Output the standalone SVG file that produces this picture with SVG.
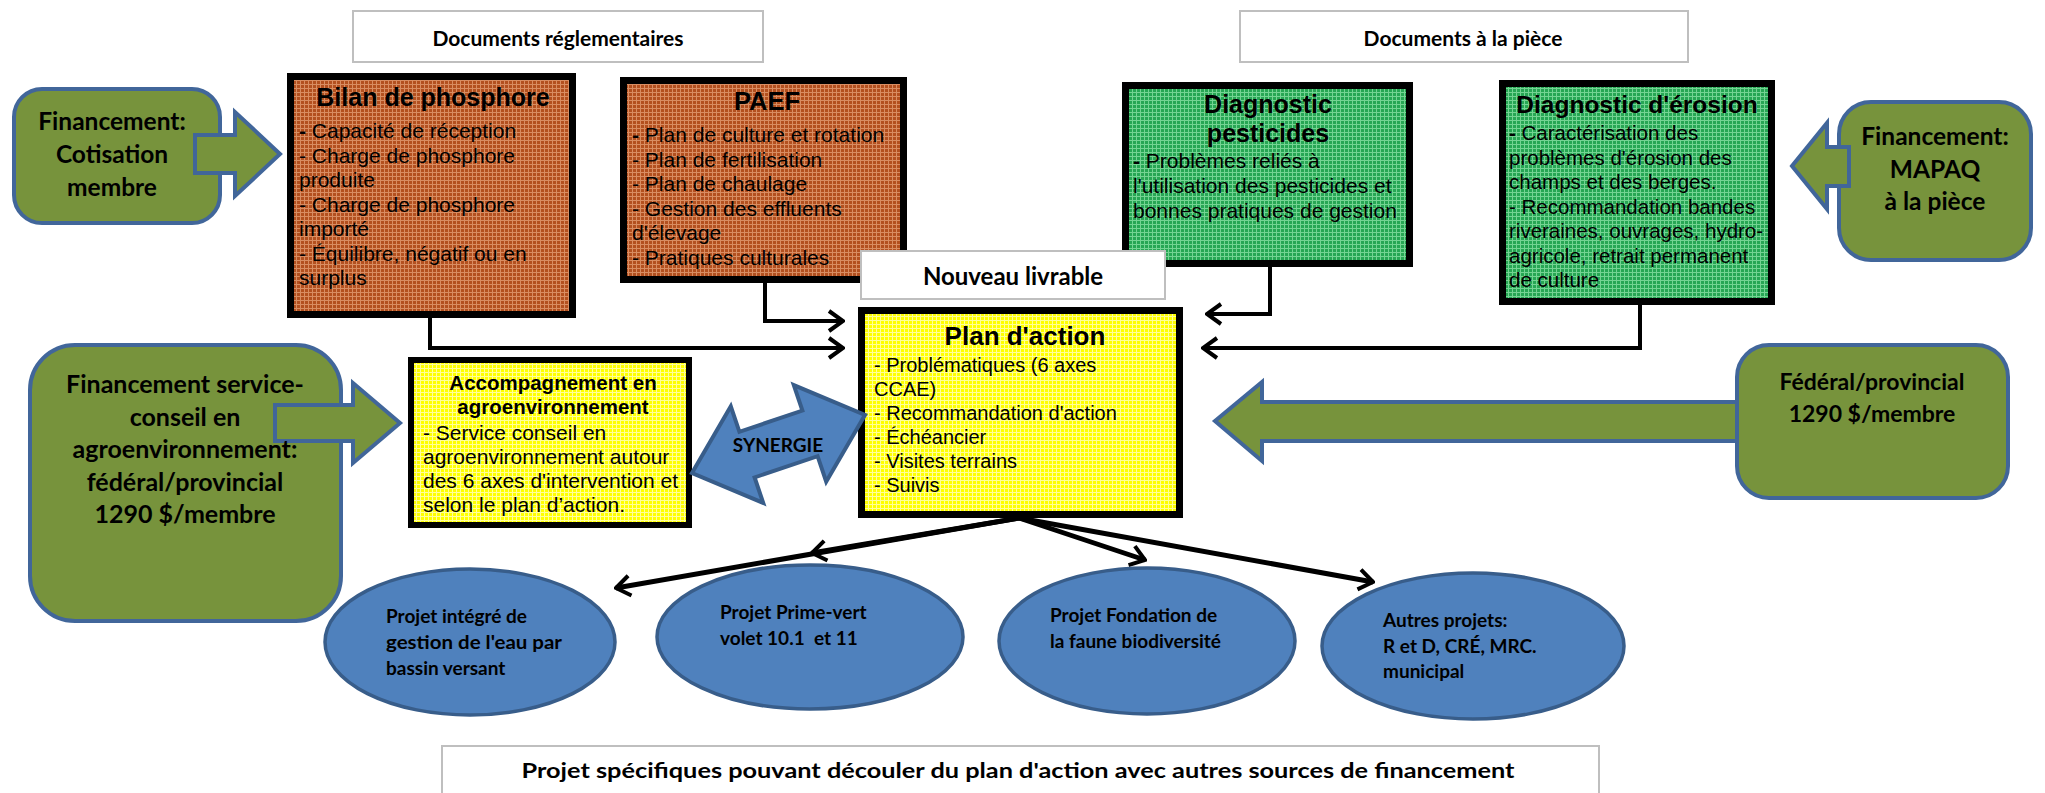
<svg xmlns="http://www.w3.org/2000/svg" width="2045" height="793" viewBox="0 0 2045 793">
<style>
.lbl{fill:#fff;stroke:#bfbfbf;stroke-width:2}
.cal{font-family:Lato,"Open Sans",sans-serif;font-weight:bold;fill:#000}
.ar{font-family:"Liberation Sans",Arial,sans-serif;fill:#000}
.arb{font-family:"Liberation Sans",Arial,sans-serif;font-weight:bold;fill:#000}
.box{stroke:#000;stroke-width:7}
.fin{fill:#77933c;stroke:#41669a;stroke-width:4}
.ell{fill:#4f81bd;stroke:#385d8a;stroke-width:3.5}
.con{fill:none;stroke:#000;stroke-width:4;marker-end:url(#chev)}
.con2{fill:none;stroke:#000;stroke-width:5;marker-end:url(#chev)}
</style>
<defs>
<pattern id="pBrown" width="4" height="4" patternUnits="userSpaceOnUse">
<rect width="4" height="4" fill="#b3501f"/><path d="M0 0.5H4M0.5 0V4" stroke="#d98d62" stroke-width="1"/>
</pattern>
<pattern id="pGreen" width="4" height="4" patternUnits="userSpaceOnUse">
<rect width="4" height="4" fill="#27a654"/><path d="M0 0.5H4M0.5 0V4" stroke="#74d493" stroke-width="1"/>
</pattern>
<pattern id="pYellow" width="4" height="4" patternUnits="userSpaceOnUse">
<rect width="4" height="4" fill="#ffff00"/><path d="M0 0.5H4M0.5 0V4" stroke="#ffff9a" stroke-width="1"/>
</pattern>
<marker id="chev" viewBox="0 0 18 24" refX="16" refY="12" markerWidth="18" markerHeight="24" markerUnits="userSpaceOnUse" orient="auto">
<path d="M2 2 L16 12 L2 22" fill="none" stroke="#000" stroke-width="4"/>
</marker>
</defs>
<rect width="2045" height="793" fill="#fff"/>

<g id="label-reglementaires">
<rect class="lbl" x="353" y="11" width="410" height="51"/>
<text class="cal" x="558" y="46" font-size="21" text-anchor="middle">Documents réglementaires</text>
</g>
<g id="label-piece">
<rect class="lbl" x="1240" y="11" width="448" height="51"/>
<text class="cal" x="1463" y="46" font-size="21" text-anchor="middle">Documents à la pièce</text>
</g>

<g id="connectors">
<polyline class="con" points="430,318 430,348 843,348"/>
<polyline class="con" points="765,283 765,321 843,321"/>
<polyline class="con" points="1270,267 1270,314 1207,314"/>
<polyline class="con" points="1640,305 1640,348 1203,348"/>
<line class="con2" x1="1019" y1="518" x2="616" y2="588"/>
<line class="con2" x1="1019" y1="518" x2="812" y2="553"/>
<line class="con2" x1="1019" y1="518" x2="1145" y2="560"/>
<line class="con2" x1="1019" y1="518" x2="1373" y2="582"/>
</g>

<g id="fin-cotisation">
<rect class="fin" x="14" y="89" width="206" height="134" rx="28"/>
<polygon class="fin" points="195,135 235,135 235,112 280,154 235,196 235,173 195,173"/>
<text class="cal" font-size="24.5" text-anchor="middle"><tspan x="112" y="130">Financement:</tspan><tspan x="112" y="163">Cotisation</tspan><tspan x="112" y="196">membre</tspan></text>
</g>

<g id="bilan">
<rect class="box" x="290.5" y="76.5" width="282" height="238" fill="url(#pBrown)"/>
<text class="arb" x="433" y="106" font-size="25" text-anchor="middle">Bilan de phosphore</text>
<text class="ar" font-size="21"><tspan x="299" y="138"><tspan font-weight="bold">-</tspan> Capacité de réception</tspan><tspan x="299" y="162.5">- Charge de phosphore</tspan><tspan x="299" y="187">produite</tspan><tspan x="299" y="211.5">- Charge de phosphore</tspan><tspan x="299" y="236">importé</tspan><tspan x="299" y="260.5">- Équilibre, négatif ou en</tspan><tspan x="299" y="285">surplus</tspan></text>
</g>

<g id="paef">
<rect class="box" x="623.5" y="80.5" width="280" height="199" fill="url(#pBrown)"/>
<text class="arb" x="767" y="110" font-size="25.5" text-anchor="middle">PAEF</text>
<text class="ar" font-size="21"><tspan x="632" y="142"><tspan font-weight="bold">-</tspan> Plan de culture et rotation</tspan><tspan x="632" y="166.5">- Plan de fertilisation</tspan><tspan x="632" y="191">- Plan de chaulage</tspan><tspan x="632" y="215.5">- Gestion des effluents</tspan><tspan x="632" y="240">d'élevage</tspan><tspan x="632" y="264.5">- Pratiques culturales</tspan></text>
</g>

<g id="pesticides">
<rect class="box" x="1125.5" y="85.5" width="284" height="178" fill="url(#pGreen)"/>
<text class="arb" font-size="25" text-anchor="middle"><tspan x="1268" y="113">Diagnostic</tspan><tspan x="1268" y="142">pesticides</tspan></text>
<text class="ar" font-size="21"><tspan x="1133" y="168"><tspan font-weight="bold">-</tspan> Problèmes reliés à</tspan><tspan x="1133" y="193">l'utilisation des pesticides et</tspan><tspan x="1133" y="218">bonnes pratiques de gestion</tspan></text>
</g>

<g id="erosion">
<rect class="box" x="1502.5" y="83.5" width="269" height="218" fill="url(#pGreen)"/>
<text class="arb" x="1637" y="113" font-size="24.5" text-anchor="middle">Diagnostic d'érosion</text>
<text class="ar" font-size="20.5"><tspan x="1509" y="140"><tspan font-weight="bold">-</tspan> Caractérisation des</tspan><tspan x="1509" y="164.5">problèmes d'érosion des</tspan><tspan x="1509" y="189">champs et des berges.</tspan><tspan x="1509" y="213.5">- Recommandation bandes</tspan><tspan x="1509" y="238">riveraines, ouvrages, hydro-</tspan><tspan x="1509" y="262.5">agricole, retrait permanent</tspan><tspan x="1509" y="287">de culture</tspan></text>
</g>

<g id="fin-mapaq">
<rect class="fin" x="1839" y="102" width="192" height="158" rx="32"/>
<polygon class="fin" points="1849,147 1827,147 1827,123 1792,166 1827,209 1827,186 1849,186"/>
<text class="cal" font-size="24.5" text-anchor="middle"><tspan x="1935" y="145">Financement:</tspan><tspan x="1935" y="177.5">MAPAQ</tspan><tspan x="1935" y="210">à la pièce</tspan></text>
</g>

<g id="nouveau-livrable">
<rect class="lbl" x="861" y="251" width="304" height="48"/>
<text class="cal" x="1013" y="285" font-size="24" text-anchor="middle">Nouveau livrable</text>
</g>

<g id="fin-service">
<rect class="fin" x="30" y="345" width="311" height="276" rx="45"/>
<polygon class="fin" points="275,405 353,405 353,383 400,423 353,463 353,441 275,441"/>
<text class="cal" font-size="25" text-anchor="middle"><tspan x="185" y="393">Financement service-</tspan><tspan x="185" y="425.5">conseil en</tspan><tspan x="185" y="458">agroenvironnement:</tspan><tspan x="185" y="490.5">fédéral/provincial</tspan><tspan x="185" y="523">1290 $/membre</tspan></text>
</g>

<g id="accompagnement">
<rect x="411" y="360" width="278" height="165" fill="url(#pYellow)" stroke="#000" stroke-width="6"/>
<text class="arb" font-size="20.5" text-anchor="middle"><tspan x="553" y="390">Accompagnement en</tspan><tspan x="553" y="414">agroenvironnement</tspan></text>
<text class="ar" font-size="21"><tspan x="423" y="440">- Service conseil en</tspan><tspan x="423" y="464">agroenvironnement autour</tspan><tspan x="423" y="488">des 6 axes d'intervention et</tspan><tspan x="423" y="512">selon le plan d’action.</tspan></text>
</g>

<g id="plan-action">
<rect class="box" x="861.5" y="310.5" width="318" height="204" fill="url(#pYellow)"/>
<text class="arb" x="1025" y="345" font-size="26" text-anchor="middle">Plan d'action</text>
<text class="ar" font-size="20"><tspan x="874" y="372">- Problématiques (6 axes</tspan><tspan x="874" y="396">CCAE)</tspan><tspan x="874" y="420">- Recommandation d'action</tspan><tspan x="874" y="444">- Échéancier</tspan><tspan x="874" y="468">- Visites terrains</tspan><tspan x="874" y="492">- Suivis</tspan></text>
</g>

<g id="synergie">
<polygon points="692,473 730.8,406.3 739.4,431.8 802.4,410.6 793.8,385.1 865,415 826.2,481.7 817.6,456.2 754.6,477.4 763.2,502.9" fill="#4f81bd" stroke="#385d8a" stroke-width="4" stroke-linejoin="miter"/>
<text class="cal" x="778" y="452" font-size="19" text-anchor="middle">SYNERGIE</text>
</g>

<g id="fin-federal">
<polygon class="fin" points="1745,402 1262,402 1262,382 1215,421 1262,461 1262,441 1745,441"/>
<rect class="fin" x="1737" y="345" width="271" height="153" rx="32"/>
<text class="cal" font-size="23" text-anchor="middle"><tspan x="1872" y="390">Fédéral/provincial</tspan><tspan x="1872" y="422">1290 $/membre</tspan></text>
</g>

<g id="projet-eau">
<ellipse class="ell" cx="470" cy="642" rx="145" ry="73"/>
<text class="cal" font-size="19"><tspan x="386" y="623">Projet intégré de</tspan><tspan x="386" y="649" textLength="176" lengthAdjust="spacingAndGlyphs">gestion de l'eau par</tspan><tspan x="386" y="675">bassin versant</tspan></text>
</g>
<g id="projet-prime-vert">
<ellipse class="ell" cx="810" cy="637" rx="153" ry="72"/>
<text class="cal" font-size="19"><tspan x="720" y="619" xml:space="preserve">Projet Prime-vert</tspan><tspan x="720" y="645" xml:space="preserve">volet 10.1  et 11</tspan></text>
</g>
<g id="projet-fondation">
<ellipse class="ell" cx="1147" cy="641" rx="148" ry="73"/>
<text class="cal" font-size="19"><tspan x="1050" y="622">Projet Fondation de</tspan><tspan x="1050" y="648">la faune biodiversité</tspan></text>
</g>
<g id="projet-autres">
<ellipse class="ell" cx="1473" cy="646" rx="151" ry="73"/>
<text class="cal" font-size="19"><tspan x="1383" y="627">Autres projets:</tspan><tspan x="1383" y="653">R et D, CRÉ, MRC.</tspan><tspan x="1383" y="678">municipal</tspan></text>
</g>

<g id="label-projets">
<rect class="lbl" x="442" y="746" width="1157" height="52"/>
<text class="cal" x="1018" y="778" font-size="21" text-anchor="middle" textLength="993" lengthAdjust="spacingAndGlyphs">Projet spécifiques pouvant découler du plan d'action avec autres sources de financement</text>
</g>
</svg>
